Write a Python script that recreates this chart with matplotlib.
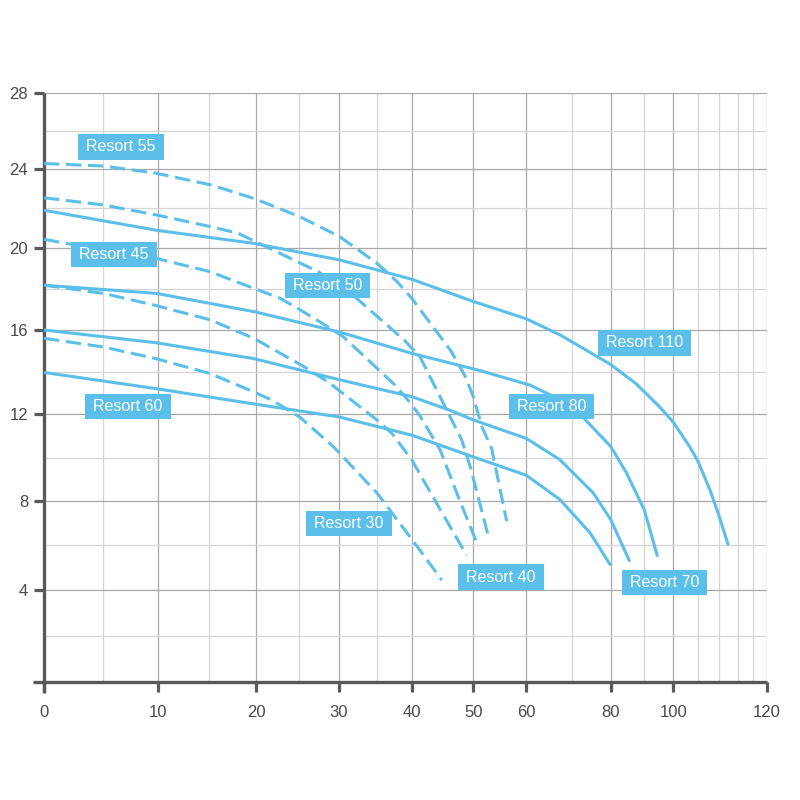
import numpy as np
import matplotlib
matplotlib.use('Agg')
import matplotlib.pyplot as plt
from matplotlib.path import Path

# axis calibration of the original chart (value -> pixel on the 800px sheet)
x_grid = [0, 5, 10, 15, 20, 25, 30, 35, 40, 50, 60, 70, 80, 90, 100, 110, 112.5, 115, 117.5, 120]
x_pix = [44, 103.3, 158.3, 209, 256, 299, 339, 377, 411.7, 473.3, 526.3, 571.7, 610.7, 644.2,
         673.2, 698, 719.2, 737.5, 753, 766.7]
y_grid = [0, 2, 4, 6, 8, 10, 12, 14, 16, 18, 20, 22, 24, 26, 28]
y_pix = [682, 636, 590, 545.5, 501.3, 458, 414.5, 372.5, 330, 289.3, 248.3, 208.3, 169.3, 130.7, 92.7]

x_ticks = [0, 10, 20, 30, 40, 50, 60, 80, 100, 120]
y_ticks = [4, 8, 12, 16, 20, 24, 28]

# solid curves
r110_x = [0, 9.85, 19.7, 30.1, 40, 50, 60, 67.5, 79.8, 87.7, 95.4, 100, 106.7, 110, 111.4, 112.5, 113.75]
r110_y = [21.9, 20.9, 20.25, 19.43, 18.49, 17.4, 16.55, 15.76, 14.4, 13.45, 12.35, 11.65, 10.51, 9.84, 8.54, 7.32, 6.0]
r80_x = [0, 9.8, 19.8, 30.1, 40, 51.1, 60.8, 65.6, 73, 80, 84.7, 90, 94.6]
r80_y = [18.2, 17.8, 16.9, 15.9, 14.9, 14.1, 13.4, 12.9, 11.85, 10.53, 9.31, 7.62, 5.5]
r70_x = [0, 9.8, 19.8, 30.1, 40, 46.2, 50, 60, 67.4, 75.5, 80, 85.7]
r70_y = [16.0, 15.4, 14.65, 13.65, 12.85, 12.2, 11.75, 10.9, 9.92, 8.39, 7.17, 5.27]
r60_x = [0, 9.8, 19.8, 30.1, 40, 50, 60, 67.4, 74.7, 80]
r60_y = [14.0, 13.23, 12.5, 11.88, 11.05, 10.05, 9.2, 8.08, 6.57, 5.1]

# dashed curves
r55_x = [0, 5, 9.8, 15.2, 19.8, 25.1, 30.1, 35, 37.9, 40, 46.4, 48.65, 50, 51.6, 53.45, 56.3]
r55_y = [24.3, 24.17, 23.8, 23.2, 22.5, 21.58, 20.58, 19.27, 18.37, 17.56, 15.0, 13.84, 12.85, 11.45, 10.44, 7.1]
r50_x = [0, 5, 9.8, 15, 18.1, 22.4, 27.4, 32.3, 39.0, 41.35, 44.9, 48.1, 49.5, 52.7]
r50_y = [22.54, 22.17, 21.67, 21.1, 20.75, 19.83, 18.86, 17.56, 15.5, 14.73, 12.67, 10.84, 9.6, 6.54]
r45_x = [0, 2.3, 9.8, 15.1, 19.8, 22.8, 25.1, 27.4, 30.5, 37.6, 39.8, 41.35, 44.6, 47.8, 50.8]
r45_y = [20.45, 20.2, 19.51, 18.86, 18.04, 17.56, 17.0, 16.45, 15.7, 13.4, 12.55, 11.93, 10.38, 8.03, 6.04]
r40_x = [0, 5, 9.8, 15.1, 19.8, 25.5, 28.6, 34.8, 37.1, 40, 44, 48.9]
r40_y = [18.2, 17.8, 17.2, 16.5, 15.6, 14.3, 13.56, 11.8, 11.15, 9.92, 7.93, 5.56]
r30_x = [0, 5, 9.8, 15.1, 19.8, 21.9, 25.1, 29.3, 35, 40.1, 44.9]
r30_y = [15.61, 15.2, 14.65, 13.95, 13.07, 12.67, 11.88, 10.52, 8.38, 6.25, 4.44]

label_text = ['Resort 55', 'Resort 45', 'Resort 60', 'Resort 50', 'Resort 30',
              'Resort 40', 'Resort 110', 'Resort 80', 'Resort 70']
label_x = [6.6, 5.95, 7.25, 28.6, 31.3, 55.2, 90, 65.6, 96.9]
label_y = [25.16, 19.69, 12.37, 18.19, 7.0, 4.58, 15.39, 12.38, 4.32]

blue = '#5bbfea'
axis_col = '#595959'


def make_scale(vals, pix):
    vals = np.asarray(vals, float)
    pix = np.asarray(pix, float)
    lo = (pix[1] - pix[0]) / (vals[1] - vals[0])
    hi = (pix[-1] - pix[-2]) / (vals[-1] - vals[-2])

    def fwd(v):
        v = np.asarray(v, float)
        out = np.interp(v, vals, pix)
        out = np.where(v < vals[0], pix[0] + (v - vals[0]) * lo, out)
        return np.where(v > vals[-1], pix[-1] + (v - vals[-1]) * hi, out)

    def inv(p):
        p = np.asarray(p, float)
        out = np.interp(p, pix, vals)
        out = np.where(p < pix[0], vals[0] + (p - pix[0]) / lo, out)
        return np.where(p > pix[-1], vals[-1] + (p - pix[-1]) / hi, out)
    return fwd, inv


def label_box(x0, y0, width, height, mutation_size):
    px, py = 0.5 * mutation_size, 0.32 * mutation_size
    x0, y0 = x0 - px, y0 - py
    x1, y1 = x0 + width + 2 * px, y0 + height + 2 * py
    return Path([(x0, y0), (x1, y0), (x1, y1), (x0, y1), (x0, y0)], closed=True)


fig = plt.figure(figsize=(8, 8), dpi=100)
ax = fig.add_axes([33 / 800, 1 - 693 / 800, (766.7 - 33) / 800, (693 - 92.7) / 800])
ax.set_xscale('function', functions=make_scale(x_grid, x_pix))
ax.set_yscale('function', functions=make_scale(y_grid, -np.array(y_pix)))
ax.set_xlim(-0.93, 120)
ax.set_ylim(-0.48, 28)

# grid
for v in x_grid[1:]:
    c = '#a9a9a9' if v in x_ticks else '#d6d6d6'
    ax.vlines(v, 0, 28, color=c, lw=0.9, zorder=0)
for v in y_grid[1:]:
    c = '#a9a9a9' if v in y_ticks else '#d6d6d6'
    ax.hlines(v, 0, 120, color=c, lw=0.9, zorder=0)

for xs, ys in [(r110_x, r110_y), (r80_x, r80_y), (r70_x, r70_y), (r60_x, r60_y)]:
    ax.plot(xs, ys, color=blue, lw=2.2, solid_capstyle='butt', solid_joinstyle='round', zorder=3)
for xs, ys in [(r55_x, r55_y), (r50_x, r50_y), (r45_x, r45_y), (r40_x, r40_y), (r30_x, r30_y)]:
    ax.plot(xs, ys, color=blue, lw=2.2, ls=(0, (5, 2.2)), dash_capstyle='butt',
            dash_joinstyle='round', zorder=3)

for t, x, y in zip(label_text, label_x, label_y):
    ax.text(x, y, t, ha='center', va='center', color='white', fontsize=11.5,
            family='Liberation Sans', zorder=5,
            bbox=dict(boxstyle=label_box, fc=blue, ec='none'))

for s in ['top', 'right']:
    ax.spines[s].set_visible(False)
ax.spines['left'].set_position(('data', 0))
ax.spines['bottom'].set_position(('data', 0))
for s in ['left', 'bottom']:
    ax.spines[s].set_color(axis_col)
    ax.spines[s].set_linewidth(2.4)
    ax.spines[s].set_capstyle('butt')

ax.set_xticks(x_ticks)
ax.set_yticks(y_ticks)
ax.set_xticklabels([str(v) for v in x_ticks])
ax.set_yticklabels([str(v) for v in y_ticks])
ax.minorticks_off()
ax.tick_params(axis='both', direction='out', length=7.5, width=2.3, color=axis_col,
               labelcolor='#4a4a4a', labelsize=12)
ax.tick_params(axis='x', pad=9)
ax.tick_params(axis='y', pad=4)
for lab in ax.get_xticklabels() + ax.get_yticklabels():
    lab.set_family('Liberation Sans')
ax.patch.set_visible(False)

fig.savefig('out.png', dpi=100, facecolor='white')
